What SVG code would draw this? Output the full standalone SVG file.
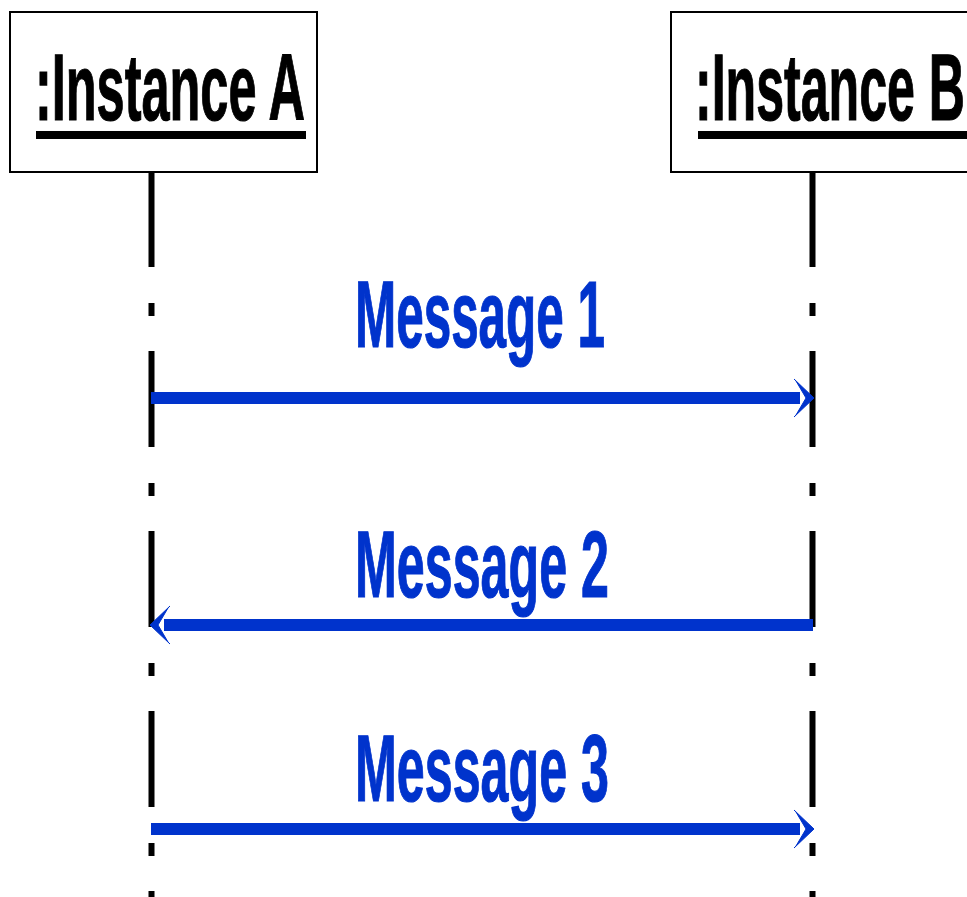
<svg xmlns="http://www.w3.org/2000/svg" width="967" height="897" viewBox="0 0 967 897">
  <style>
    .box { fill: #ffffff; stroke: #000000; stroke-width: 2; }
    .label { font-family: "Liberation Sans", Arial, sans-serif; font-weight: bold; font-size: 95px; fill: #000000; stroke: #000000; stroke-width: 1.2; }
    .uline { fill: #000000; }
    .life { stroke: #000000; stroke-width: 6; stroke-dasharray: 96 36 13 35; fill: none; }
    .msg { stroke: #0033cc; stroke-width: 12; fill: none; marker-end: url(#ah); }
    .msgtext { font-family: "Liberation Sans", Arial, sans-serif; font-weight: bold; font-size: 95px; fill: #0033cc; stroke: #0033cc; stroke-width: 1.2; }
  </style>
  <defs>
    <marker id="ah" markerUnits="userSpaceOnUse" viewBox="-24 -22 28 44" markerWidth="28" markerHeight="44" refX="-13" refY="0" orient="auto" overflow="visible">
      <path d="M1,0 L-19,-19 L-17,-17 L-7,0 L-17,17 L-19,19 Z" fill="#0033cc" stroke="#0033cc" stroke-width="1" stroke-linejoin="miter"/>
    </marker>
  </defs>
  <rect width="967" height="897" fill="#ffffff"/>

  <g id="lifeline-a">
    <line class="life" x1="151.5" y1="171" x2="151.5" y2="897"/>
  </g>
  <g id="lifeline-b">
    <line class="life" x1="812.5" y1="171" x2="812.5" y2="897"/>
  </g>

  <g id="instance-a">
    <rect class="box" x="10" y="12" width="307" height="160"/>
    <text class="label" x="35" y="120" textLength="270" lengthAdjust="spacingAndGlyphs">:Instance A</text>
    <rect class="uline" x="36" y="131" width="270" height="8"/>
  </g>
  <g id="instance-b">
    <rect class="box" x="671" y="12" width="400" height="160"/>
    <text class="label" x="695" y="120" textLength="270" lengthAdjust="spacingAndGlyphs">:Instance B</text>
    <rect class="uline" x="698" y="131" width="280" height="8"/>
  </g>

  <g id="connectors">
    <line class="msg" x1="151" y1="398" x2="800" y2="398"/>
    <line class="msg" x1="813" y1="625" x2="164" y2="625"/>
    <line class="msg" x1="151" y1="829" x2="800" y2="829"/>
  </g>

  <g id="labels">
    <text class="msgtext" x="355" y="347" textLength="250" lengthAdjust="spacingAndGlyphs">Message 1</text>
    <text class="msgtext" x="355" y="597" textLength="254" lengthAdjust="spacingAndGlyphs">Message 2</text>
    <text class="msgtext" x="355" y="801" textLength="254" lengthAdjust="spacingAndGlyphs">Message 3</text>
  </g>
</svg>
